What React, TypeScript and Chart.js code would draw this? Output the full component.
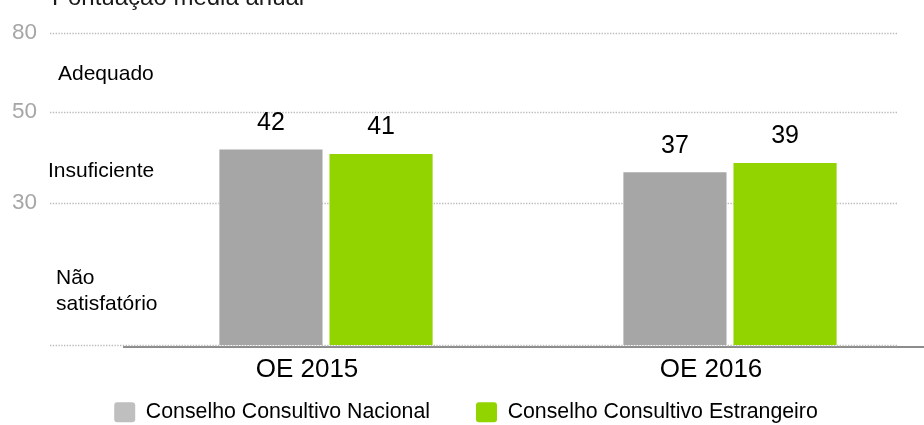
import React, { useEffect, useRef } from 'react';
import { Chart, registerables, LinearScale } from 'chart.js';

Chart.register(...registerables);

// ---------- data ----------
const CATEGORIES = ['OE 2015', 'OE 2016'];
const SERIES_NAMES = ['Conselho Consultivo Nacional', 'Conselho Consultivo Estrangeiro'];
const NACIONAL = [42, 37];
const ESTRANGEIRO = [41, 39];
const Y_TICKS = [0, 30, 50, 80];
const BAR_COLORS = ['#a6a6a6', '#92d400'];
const LEGEND_COLORS = ['#bfbfbf', '#92d400'];
const TITLE = 'Pontuação média anual';
const BAND_LABELS = ['Adequado', 'Insuficiente', 'Não', 'satisfatório'];

const FONT = "'Liberation Sans', Arial, Helvetica, sans-serif";

// ---------- piecewise (band) value scale ----------
const KNOT_VALUES = [0, 30, 50, 80];
const KNOT_SPAN = [0, 142, 233, 312];

function toU(v: number): number {
  const n = KNOT_VALUES.length;
  let i = 1;
  while (i < n - 1 && v > KNOT_VALUES[i]) i++;
  const v0 = KNOT_VALUES[i - 1], v1 = KNOT_VALUES[i];
  const u0 = KNOT_SPAN[i - 1], u1 = KNOT_SPAN[i];
  return u0 + ((v - v0) * (u1 - u0)) / (v1 - v0);
}
function fromU(u: number): number {
  const n = KNOT_SPAN.length;
  let i = 1;
  while (i < n - 1 && u > KNOT_SPAN[i]) i++;
  const v0 = KNOT_VALUES[i - 1], v1 = KNOT_VALUES[i];
  const u0 = KNOT_SPAN[i - 1], u1 = KNOT_SPAN[i];
  return v0 + ((u - u0) * (v1 - v0)) / (u1 - u0);
}

class PiecewiseScale extends LinearScale {
  static id = 'piecewise';
  static defaults = (LinearScale as any).defaults;
  getPixelForValue(value: any) {
    if (value === null || value === undefined || isNaN(value)) return NaN;
    const s: any = this;
    const a = toU(s.min), b = toU(s.max);
    return s.getPixelForDecimal((toU(+value) - a) / (b - a));
  }
  getValueForPixel(pixel: number) {
    const s: any = this;
    const a = toU(s.min), b = toU(s.max);
    const d = s.getDecimalForPixel(pixel);
    return fromU(a + d * (b - a));
  }
}
Chart.register(PiecewiseScale as any);

// ---------- plugins ----------
const dottedGrid = {
  id: 'dottedGrid',
  beforeDatasetsDraw(chart: any) {
    const y = chart.scales.y;
    const ctx = chart.ctx;
    ctx.save();
    ctx.strokeStyle = '#bdbdbd';
    ctx.lineWidth = 1.3;
    ctx.setLineDash([1.4, 1.4]);
    y.ticks.forEach((t: any) => {
      const py = Math.round(y.getPixelForValue(t.value)) + 0.5;
      ctx.beginPath();
      ctx.moveTo(50, py);
      ctx.lineTo(898, py);
      ctx.stroke();
    });
    ctx.restore();
  },
};

const valueLabels = {
  id: 'valueLabels',
  afterDatasetsDraw(chart: any) {
    const ctx = chart.ctx;
    ctx.save();
    ctx.font = `25px ${FONT}`;
    ctx.fillStyle = '#000';
    ctx.textAlign = 'center';
    ctx.textBaseline = 'middle';
    chart.data.datasets.forEach((ds: any, di: number) => {
      const meta = chart.getDatasetMeta(di);
      meta.data.forEach((el: any, i: number) => {
        ctx.fillText(String(ds.data[i]), el.x, el.y - 25.5);
      });
    });
    ctx.restore();
  },
};

const annotations = {
  id: 'annotations',
  afterDraw(chart: any) {
    const ctx = chart.ctx;
    ctx.save();
    ctx.fillStyle = '#1a1a1a';
    ctx.font = `24px ${FONT}`;
    ctx.textAlign = 'left';
    ctx.textBaseline = 'alphabetic';
    ctx.fillText(TITLE, 52, 5);
    ctx.fillStyle = '#000';
    ctx.font = `21px ${FONT}`;
    ctx.textBaseline = 'middle';
    ctx.fillText(BAND_LABELS[0], 58, 74);
    ctx.fillText(BAND_LABELS[1], 48, 171);
    ctx.fillText(BAND_LABELS[2], 56, 278);
    ctx.fillText(BAND_LABELS[3], 56, 304);
    ctx.restore();
  },
};

export default function App() {
  const ref = useRef<HTMLCanvasElement | null>(null);

  useEffect(() => {
    if (!ref.current) return;
    Chart.defaults.font.family = FONT;
    const chart = new Chart(ref.current, {
      type: 'bar',
      data: {
        labels: CATEGORIES,
        datasets: [
          {
            label: SERIES_NAMES[0],
            data: NACIONAL,
            backgroundColor: BAR_COLORS[0],
            borderColor: 'rgba(255,255,255,0.55)',
            borderWidth: 1,
            barPercentage: 0.955,
            categoryPercentage: 0.545,
          },
          {
            label: SERIES_NAMES[1],
            data: ESTRANGEIRO,
            backgroundColor: BAR_COLORS[1],
            borderColor: 'rgba(255,255,255,0.45)',
            borderWidth: 1,
            barPercentage: 0.955,
            categoryPercentage: 0.545,
          },
        ],
      },
      options: {
        responsive: false,
        animation: false,
        devicePixelRatio: 1,
        events: [],
        layout: { padding: { top: 33, right: 8, left: 0, bottom: 0 } },
        scales: {
          x: {
            type: 'category',
            offset: true,
            grid: { display: false, drawTicks: false },
            border: { display: true, color: '#8c8c8c', width: 2 },
            afterFit: (s: any) => {
              s.height = 8.6;
            },
            ticks: {
              color: '#000',
              font: { size: 26, family: FONT },
              mirror: true,
              padding: -38.6,
              labelOffset: -19,
              maxRotation: 0,
              autoSkip: false,
            },
          },
          y: {
            type: 'piecewise' as any,
            min: -0.4,
            max: 80,
            grid: { display: false, drawTicks: false },
            border: { display: false },
            afterBuildTicks: (s: any) => {
              s.ticks = Y_TICKS.map((v) => ({ value: v }));
            },
            afterFit: (s: any) => {
              s.width = 124;
              s.paddingTop = 0;
              s.paddingBottom = 0;
            },
            ticks: {
              color: '#a6a6a6',
              font: { size: 22.5, family: FONT },
              padding: 87,
              callback: (v: any) => (v === 0 ? '' : String(v)),
            },
          },
        },
        plugins: {
          title: { display: false },
          tooltip: { enabled: false },
          legend: {
            display: true,
            position: 'bottom',
            maxHeight: 69.5,
            labels: {
              boxWidth: 21,
              boxHeight: 20,
              padding: 46,
              color: '#000',
              font: { size: 21.3, family: FONT },
              useBorderRadius: true,
              borderRadius: 3,
              generateLabels: () =>
                SERIES_NAMES.map((name, i) => ({
                  text: name,
                  fillStyle: LEGEND_COLORS[i],
                  strokeStyle: LEGEND_COLORS[i],
                  lineWidth: 0,
                  hidden: false,
                  datasetIndex: i,
                  fontColor: '#000',
                  borderRadius: 3,
                })),
            },
          },
        },
      } as any,
      plugins: [dottedGrid, valueLabels, annotations],
    });
    return () => chart.destroy();
  }, []);

  return (
    <div
      style={{
        position: 'fixed',
        left: 0,
        top: 0,
        width: 924,
        height: 425,
        overflow: 'hidden',
        background: '#fff',
      }}
    >
      <canvas ref={ref} width={940} height={425} style={{ display: 'block' }} />
    </div>
  );
}
